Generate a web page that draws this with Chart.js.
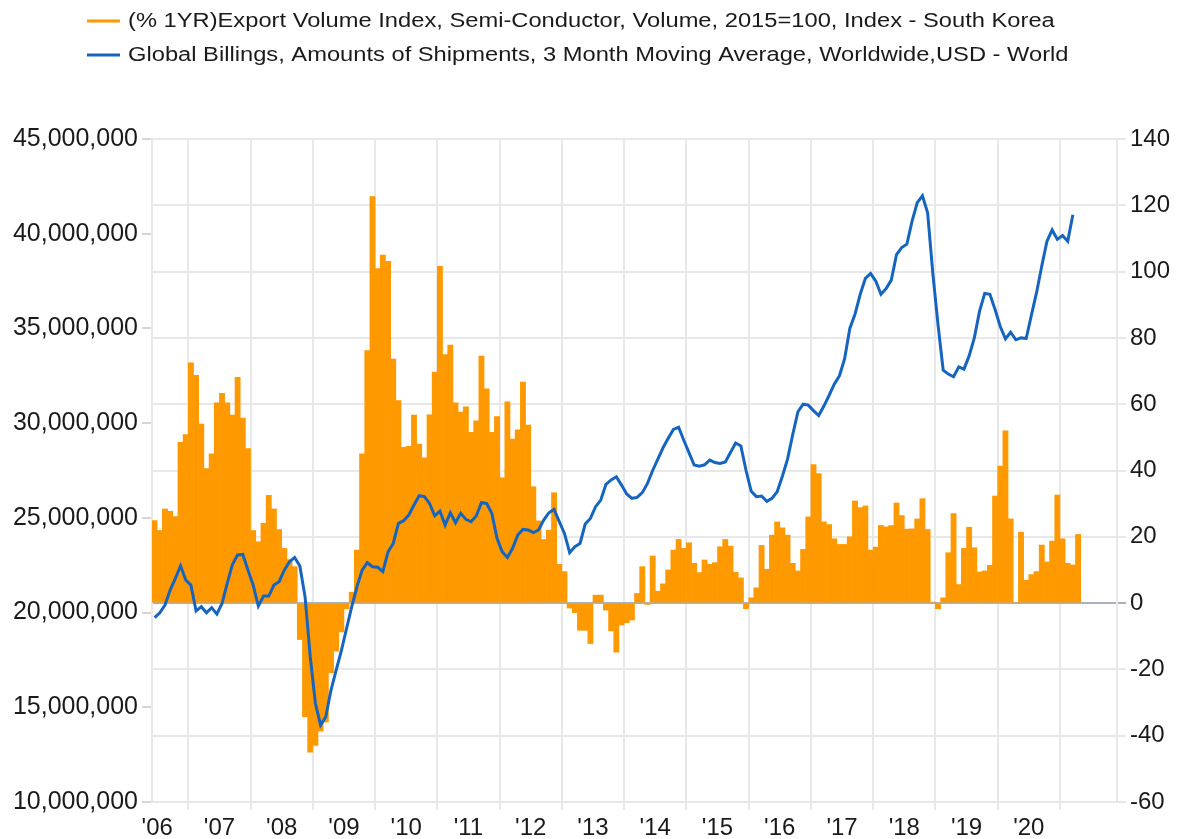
<!DOCTYPE html>
<html>
<head>
<meta charset="utf-8">
<title>Semiconductor exports vs global billings</title>
<script src="https://cdn.jsdelivr.net/npm/chart.js@4.4.1/dist/chart.umd.min.js"></script>
<style>
  html, body { margin: 0; padding: 0; background: #fff; }
  #wrap { width: 1178px; height: 839px; position: relative; }
</style>
</head>
<body>
<div id="wrap"><canvas id="chart"></canvas></div>
<script>
// monthly axis: Jun 2006 .. Nov 2021
const START_YEAR = 2006;
const START_MONTH = 6;
const N_MONTHS = 186;
const months = [];
for (let i = 0; i < N_MONTHS; i++) {
  const t = START_MONTH - 1 + i;
  months.push(START_YEAR + Math.floor(t / 12) + "-" + String((t % 12) + 1).padStart(2, "0"));
}

const yearLabels = ["'06", "'07", "'08", "'09", "'10", "'11", "'12", "'13", "'14", "'15", "'16", "'17", "'18", "'19", "'20"];

// (% 1YR) export volume index, semiconductors, South Korea — Jun 2006 .. Apr 2021
const exportYoY = [
  24.9, 21.9, 28.4, 27.7, 26.1, 48.5, 50.8,
  72.5, 68.7, 54.0, 40.6, 45.0, 60.4, 63.3, 60.4, 56.7, 68.1, 55.8, 46.6,
  21.9, 18.5, 24.1, 32.5, 28.4, 22.2, 16.5, 13.1, 11.0, -11.0, -34.3, -45.0,
  -42.9, -38.6, -35.9, -21.0, -14.5, -8.7, -1.7, 3.3, 16.0, 45.0, 76.2, 122.6,
  100.9, 105.0, 103.1, 73.6, 61.1, 47.0, 47.3, 56.7, 48.0, 43.8, 56.8, 69.7,
  101.6, 75.0, 77.8, 60.4, 57.6, 59.2, 51.5, 55.0, 74.5, 64.6, 51.5, 56.3,
  37.8, 60.7, 49.5, 52.3, 66.7, 53.7, 35.1, 24.8, 19.2, 22.0, 33.3, 11.7,
  9.5, -1.5, -2.9, -8.2, -8.2, -12.2, 2.4, 2.4, -2.1, -8.4, -14.8, -6.6,
  -5.9, -5.1, 2.9, 11.0, -0.4, 14.2, 3.6, 5.8, 10.0, 16.0, 19.2, 16.5,
  18.2, 12.0, 9.2, 13.0, 11.7, 12.2, 17.0, 19.2, 17.2, 9.3, 7.6, -1.7,
  1.6, 4.6, 17.4, 10.2, 20.5, 24.5, 22.7, 20.5, 12.0, 9.7, 16.2, 26.0,
  41.8, 39.1, 24.5, 23.7, 19.4, 17.7, 17.7, 20.0, 30.8, 28.8, 29.3, 16.0,
  16.9, 23.4, 23.0, 23.4, 30.2, 26.4, 22.3, 22.4, 25.4, 31.5, 22.2, 0.3,
  -1.7, 1.6, 15.2, 27.0, 5.6, 16.5, 22.9, 16.7, 9.4, 9.7, 11.4, 32.3,
  41.3, 52.0, 25.4, 0, 21.4, 6.9, 8.6, 9.5, 17.5, 12.4, 18.7, 32.6,
  19.4, 12.0, 11.5, 20.7
];

// global billings, 3MMA, millions (axis shows x 1,000,000) — Jun 2006 .. Mar 2021
const billings = [
  19.73, 19.99, 20.40, 21.19, 21.80, 22.47, 21.72,
  21.45, 20.08, 20.31, 19.99, 20.26, 19.92, 20.48, 21.54, 22.54, 23.04, 23.07, 22.24,
  21.45, 20.34, 20.87, 20.87, 21.45, 21.63, 22.24, 22.68, 22.91, 22.46, 20.84, 17.67,
  15.20, 14.06, 14.50, 15.91, 16.96, 17.99, 19.16, 20.31, 21.36, 22.24, 22.63, 22.42,
  22.39, 22.16, 23.21, 23.65, 24.71, 24.85, 25.15, 25.68, 26.17, 26.12, 25.76, 25.11,
  25.36, 24.62, 25.27, 24.74, 25.24, 24.92, 24.80, 25.10, 25.80, 25.76, 25.24, 23.92,
  23.21, 22.91, 23.39, 24.09, 24.39, 24.36, 24.22, 24.36, 24.88, 25.27, 25.45, 24.80,
  24.18, 23.16, 23.48, 23.65, 24.67, 24.97, 25.59, 25.94, 26.77, 27.00, 27.17, 26.73,
  26.26, 26.03, 26.08, 26.33, 26.82, 27.50, 28.10, 28.70, 29.20, 29.67, 29.78, 29.10,
  28.44, 27.79, 27.73, 27.80, 28.05, 27.92, 27.87, 27.95, 28.45, 28.95, 28.80, 27.50,
  26.40, 26.12, 26.15, 25.87, 26.03, 26.38, 27.20, 28.10, 29.40, 30.60, 31.00, 30.95,
  30.66, 30.40, 30.90, 31.46, 32.06, 32.50, 33.40, 35.00, 35.75, 36.80, 37.64, 37.90,
  37.50, 36.80, 37.10, 37.55, 38.90, 39.27, 39.45, 40.66, 41.64, 42.00, 41.10, 37.90,
  35.20, 32.80, 32.59, 32.45, 32.97, 32.85, 33.55, 34.50, 35.90, 36.85, 36.80, 36.00,
  35.10, 34.45, 34.80, 34.40, 34.50, 34.47, 35.70, 36.90, 38.30, 39.60, 40.20, 39.70,
  39.90, 39.60, 41.00
];

const leftTicks = { min: 10, max: 45, step: 5 };
const rightTicks = { min: -60, max: 140, step: 20 };

const ORANGE = "#ff9900";
const BLUE = "#1565c0";
const GRID = "#e8e8e8";
const FONT = "Liberation Sans, Arial, sans-serif";

// legend drawn above the plot, left aligned like the source
const topLegend = {
  id: "topLegend",
  afterDraw(chart, args, opts) {
    const ctx = chart.ctx;
    chart.data.datasets.forEach((ds, i) => {
      const y = opts.top + i * opts.rowGap;
      ctx.save();
      ctx.strokeStyle = ds.legendColor;
      ctx.lineWidth = 3;
      ctx.beginPath();
      ctx.moveTo(opts.x, y);
      ctx.lineTo(opts.x + opts.lineLen, y);
      ctx.stroke();
      ctx.translate(opts.x + opts.lineLen + opts.gap, y);
      ctx.scale(opts.stretch, 1);
      ctx.font = opts.size + "px " + FONT;
      ctx.textBaseline = "middle";
      ctx.fillStyle = "#1a1a1a";
      ctx.fillText(ds.label, 0, 0);
      ctx.restore();
    });
  },
};

const isJan = (i) => i !== undefined && months[i] && months[i].endsWith("-01");

new Chart(document.getElementById("chart"), {
  type: "bar",
  plugins: [topLegend],
  data: {
    labels: months,
    datasets: [
      {
        type: "bar",
        label: "(% 1YR)Export Volume Index, Semi-Conductor, Volume, 2015=100, Index - South Korea",
        data: exportYoY,
        yAxisID: "y1",
        backgroundColor: ORANGE,
        legendColor: ORANGE,
        borderWidth: 0,
        barPercentage: 1,
        categoryPercentage: 1,
        order: 2,
      },
      {
        type: "line",
        label: "Global Billings, Amounts of Shipments, 3 Month Moving Average, Worldwide,USD - World",
        data: billings,
        yAxisID: "y",
        borderColor: BLUE,
        legendColor: BLUE,
        borderWidth: 3,
        pointRadius: 0,
        tension: 0,
        order: 1,
      },
    ],
  },
  options: {
    responsive: true,
    maintainAspectRatio: false,
    animation: false,
    layout: { padding: { top: 139, left: 0, right: 0, bottom: 0 } },
    plugins: {
      legend: { display: false },
      tooltip: { enabled: false },
      topLegend: { x: 87, lineLen: 33, gap: 8, top: 21, rowGap: 34, size: 20, stretch: 1.185 },
    },
    scales: {
      x: {
        offset: true,
        grid: {
          offset: true,
          color: (c) => (isJan(c.index) ? GRID : "transparent"),
          tickColor: (c) => (isJan(c.index) ? GRID : "transparent"),
          lineWidth: 2,
          tickLength: 8,
        },
        border: { display: true, color: GRID, width: 2 },
        ticks: {
          autoSkip: false,
          maxRotation: 0,
          minRotation: 0,
          labelOffset: -2.6,
          padding: 4,
          color: "#1a1a1a",
          font: { family: FONT, size: 24 },
          callback: (v, i) => {
            const [yr, mo] = months[i].split("-");
            const k = Number(yr) - START_YEAR;
            return mo === "07" && k < yearLabels.length ? yearLabels[k] : "";
          },
        },
        afterFit: (s) => { s.height = 37; },
      },
      y: {
        position: "left",
        min: leftTicks.min,
        max: leftTicks.max,
        grid: { drawOnChartArea: false, tickLength: 10, tickColor: "#d6d6d6", lineWidth: 2 },
        border: { display: true, color: GRID, width: 2 },
        ticks: {
          stepSize: leftTicks.step,
          padding: 4,
          color: "#1a1a1a",
          font: { family: FONT, size: 25 },
          callback: (v) => (v * 1000000).toLocaleString("en-US"),
        },
        afterFit: (s) => { s.width = 152; },
      },
      y1: {
        position: "right",
        min: rightTicks.min,
        max: rightTicks.max,
        grid: {
          color: (c) => (c.tick && c.tick.value === 0 ? "#aab0bc" : GRID),
          lineWidth: 2,
          tickLength: 9,
        },
        border: { display: true, color: GRID, width: 2 },
        ticks: {
          stepSize: rightTicks.step,
          padding: 4,
          color: "#1a1a1a",
          font: { family: FONT, size: 24 },
        },
        afterFit: (s) => { s.width = 61; },
      },
    },
  },
});
</script>
</body>
</html>
